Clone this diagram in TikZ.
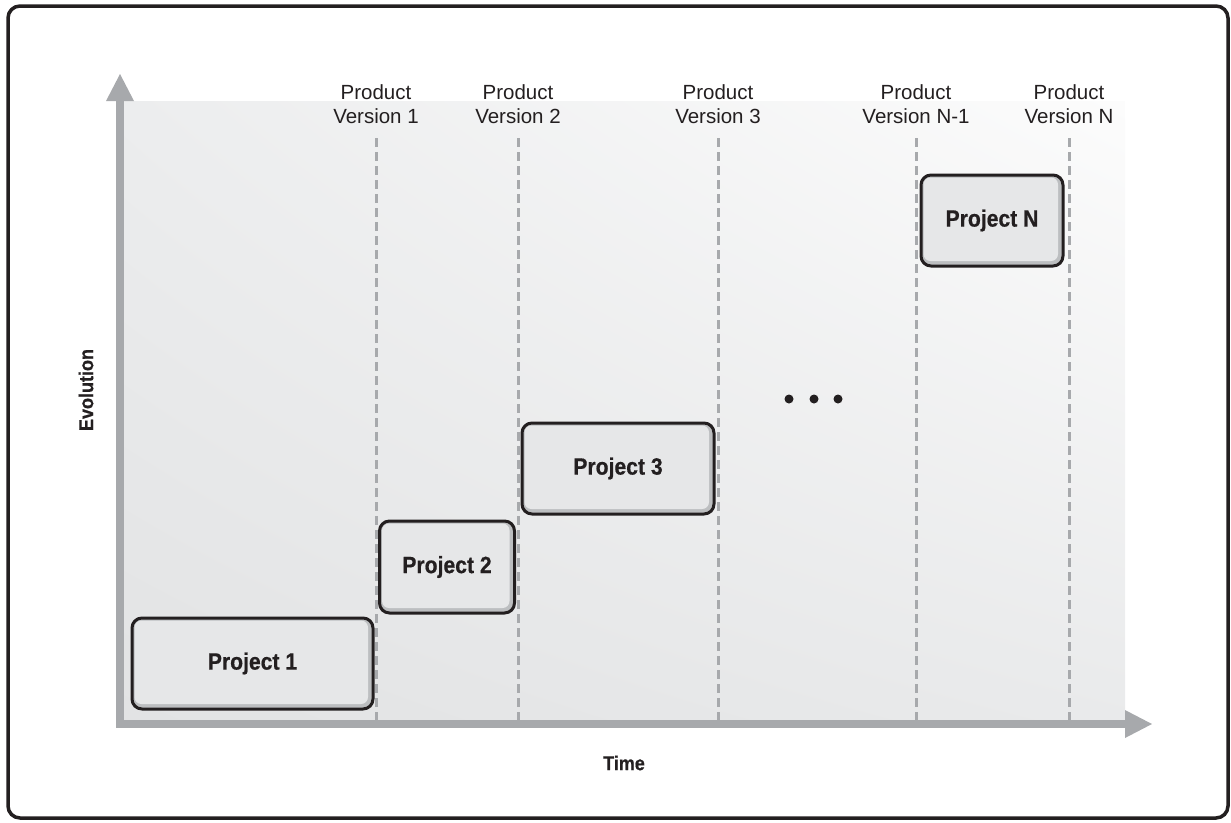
\documentclass[tikz,border=0pt]{standalone}
\usepackage{fontspec}
\usetikzlibrary{shadings}
\setmainfont{Liberation Sans}
\newfontfamily\condb[FakeStretch=0.9,FakeBold=0.6]{Liberation Sans Bold}
\definecolor{axisgray}{HTML}{A7A9AC}
\definecolor{dashgray}{HTML}{A7A9AC}
\definecolor{ringgray}{HTML}{BCBEC0}
\definecolor{boxfill}{HTML}{E6E7E8}
\definecolor{inkdark}{HTML}{231F20}
\definecolor{bgul}{HTML}{ECEDEE}
\definecolor{bgur}{HTML}{FCFCFC}
\definecolor{bgll}{HTML}{E2E3E4}
\definecolor{bglr}{HTML}{E9EAEB}
\tikzset{
  projbox/.style={rounded corners=10pt, draw=inkdark, line width=3pt, fill=ringgray,
    inner sep=0pt, text=inkdark, font=\condb\fontsize{23.5}{26}\selectfont,
    path picture={\fill[boxfill, rounded corners=7pt]
      ([shift={(2.5pt,-2.5pt)}]path picture bounding box.north west) rectangle
      ([shift={(-5pt,5pt)}]path picture bounding box.south east);}},
  verlabel/.style={align=center, inner sep=0pt, anchor=north, text=inkdark,
    font=\fontsize{20.5}{24}\selectfont},
  guide/.style={dashgray, line width=3pt, dash pattern=on 9pt off 5pt},
  axislabel/.style={text=inkdark, inner sep=0pt, font=\condb\fontsize{20}{24}\selectfont},
  axisfill/.style={fill=axisgray, draw=none}
}
\begin{document}
\begin{tikzpicture}[x=1pt,y=-1pt]
\useasboundingbox (0,0) rectangle (1231,822);
% frame
\draw[inkdark, line width=3.5pt, rounded corners=12pt] (8,6) rectangle (1228,818);
% background gradient
\shade[upper left=bgul, upper right=bgur, lower left=bgll, lower right=bglr]
  (120,101) rectangle (1125,724);
% version guides
\foreach \n/\x in {v1/376, v2/518, v3/718, vn1/916, vn/1069}{
  \coordinate (\n top) at (\x,138);
  \coordinate (\n bot) at (\x,720);
  \draw[guide] (\n top) -- (\n bot);
}
% axes
\coordinate (O) at (120,724);
\fill[axisfill] (116,728) rectangle (124,100);
\fill[axisfill] (106,101) -- (134,101) -- (120,74) -- cycle;
\fill[axisfill] (116,720) rectangle (1126,728);
\fill[axisfill] (1125,710) -- (1125,738) -- (1152,724) -- cycle;
% version labels
\node[verlabel] (l1) at (376,84) {Product\\Version 1};
\node[verlabel] (l2) at (518,84) {Product\\Version 2};
\node[verlabel] (l3) at (718,84) {Product\\Version 3};
\node[verlabel] (ln1) at (916,84) {Product\\Version N-1};
\node[verlabel] (ln) at (1069,84) {Product\\Version N};
% projects
\node[projbox, minimum width=241pt, minimum height=91pt] (p1) at (252.5,663.5) {Project 1};
\node[projbox, minimum width=135pt, minimum height=92pt] (p2) at (447,567) {Project 2};
\node[projbox, minimum width=192pt, minimum height=91pt] (p3) at (618,468.5) {Project 3};
\node[projbox, minimum width=142pt, minimum height=91pt] (pn) at (992,220.5) {Project N};
% dots
\foreach \n/\x in {d1/789, d2/814, d3/838}{
  \fill[inkdark] (\x,399) circle (4.5pt) coordinate (\n);
}
% axis labels
\node[axislabel, rotate=90] (evo) at (86,390) {Evolution};
\node[axislabel] (time) at (624,763) {Time};
\end{tikzpicture}
\end{document}
